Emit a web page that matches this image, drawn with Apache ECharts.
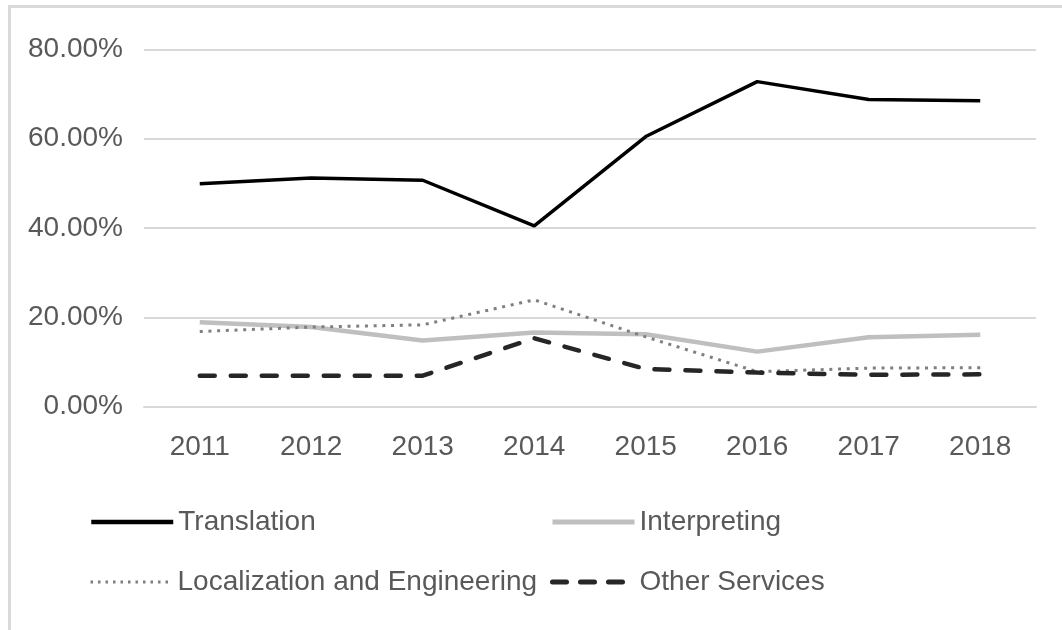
<!DOCTYPE html>
<html>
<head>
<meta charset="utf-8">
<script src="https://cdn.jsdelivr.net/npm/echarts@6/dist/echarts.min.js"></script>
<style>
  html, body { margin: 0; padding: 0; background: #fff; }
  #chart { width: 1062px; height: 630px; }
</style>
</head>
<body>
<div id="chart"></div>
<script>
const years = ["2011", "2012", "2013", "2014", "2015", "2016", "2017", "2018"]
const translation = [49.9, 51.2, 50.7, 40.5, 60.5, 72.8, 68.8, 68.5]
const interpreting = [18.9, 17.8, 14.8, 16.6, 16.2, 12.3, 15.5, 16.1]
const localization = [16.8, 17.8, 18.3, 23.9, 15.6, 7.8, 8.6, 8.7]
const otherServices = [6.9, 6.9, 6.9, 15.3, 8.4, 7.6, 7.1, 7.2]

const font = "'Liberation Sans', Arial, sans-serif"
const grey = "#595959"

const legendText = {
  color: grey,
  fontSize: 28,
  fontFamily: font
}

// legend line styles, one legend per item so the columns line up
const legendLines = {
  "Translation": { color: "#000", width: 4.5 },
  "Interpreting": { color: "#bfbfbf", width: 5 },
  "Localization and Engineering": { color: "#7f7f7f", width: 3, type: [2.5, 5] },
  "Other Services": { color: "#262626", width: 5, type: [14, 14] }
}

let option = {
  backgroundColor: "#fff",
  animation: false,
  graphic: [
    {
      type: "polyline",
      shape: { points: [[9.5, 640], [9.5, 6.5], [1070, 6.5]] },
      style: { stroke: "#d9d9d9", lineWidth: 3, fill: null }
    }
  ],
  grid: {
    left: 144,
    right: 26,
    top: 49.5,
    bottom: 223.5
  },
  legend: [
    { data: ["Translation"], left: 89, top: 508 },
    { data: ["Interpreting"], left: 550, top: 508 },
    { data: ["Localization and Engineering"], left: 89, top: 568 },
    { data: ["Other Services"], left: 550, top: 568 }
  ].map(l => Object.assign(l, {
    padding: 0,
    itemWidth: 82,
    itemHeight: 14,
    itemGap: 5,
    itemStyle: { opacity: 0 },
    lineStyle: legendLines[l.data[0]],
    textStyle: legendText
  })),
  xAxis: {
    type: "category",
    data: years,
    boundaryGap: true,
    axisTick: { show: false },
    axisLine: {
      lineStyle: { color: "#d9d9d9", width: 2 }
    },
    axisLabel: {
      color: grey,
      fontSize: 28,
      fontFamily: font,
      margin: 27
    }
  },
  yAxis: {
    type: "value",
    min: 0,
    max: 80,
    interval: 20,
    axisLine: { show: false },
    axisTick: { show: false },
    splitLine: {
      lineStyle: { color: "#d9d9d9", width: 2 }
    },
    axisLabel: {
      color: grey,
      fontSize: 28,
      fontFamily: font,
      margin: 21,
      formatter: v => v.toFixed(2) + "%"
    }
  },
  series: [
    {
      name: "Translation",
      type: "line",
      symbol: "none",
      data: translation,
      color: "#000",
      lineStyle: { color: "#000", width: 3.5 }
    },
    {
      name: "Interpreting",
      type: "line",
      symbol: "none",
      data: interpreting,
      color: "#bfbfbf",
      lineStyle: { color: "#bfbfbf", width: 4.5 }
    },
    {
      name: "Localization and Engineering",
      type: "line",
      symbol: "none",
      data: localization,
      color: "#7f7f7f",
      lineStyle: { color: "#7f7f7f", width: 3, type: [3, 5.7] }
    },
    {
      name: "Other Services",
      type: "line",
      symbol: "none",
      data: otherServices,
      color: "#262626",
      lineStyle: { color: "#262626", width: 4.5, type: [15, 16], cap: "round" }
    }
  ]
}

let chartEl = echarts.init(document.getElementById("chart"))
chartEl.setOption(option)
</script>
</body>
</html>
